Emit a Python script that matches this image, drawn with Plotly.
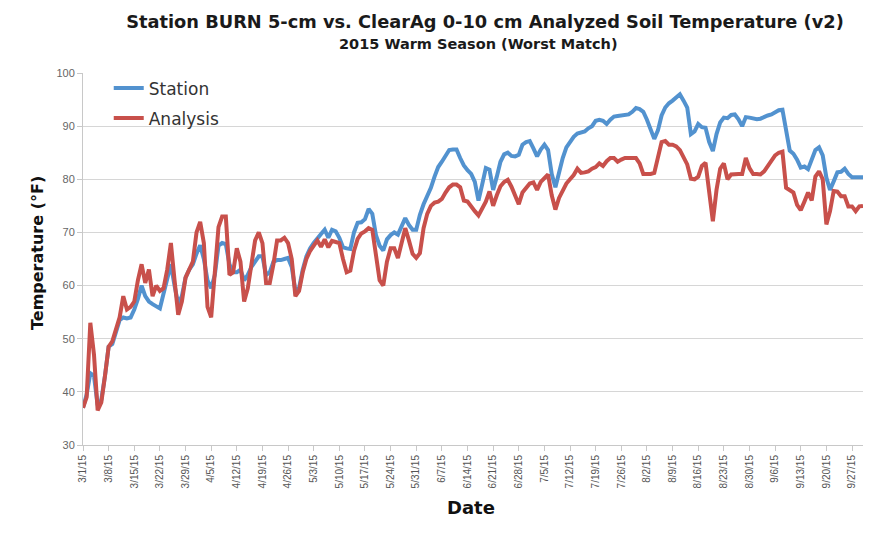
import pandas as pd
import plotly.graph_objects as go

start_date = "2015-03-01"
end_date = "2015-09-30"

station = [
    37, 39.5, 43.5, 43, 37.5, 38.5, 43,
    48.5, 49, 51, 53.5, 54, 53.8, 54,
    55.5, 57.5, 60, 58, 57, 56.5, 56,
    55.7, 58.5, 61, 64, 60, 56.5, 58,
    61.5, 63, 64, 66, 67.6, 65, 61,
    59.5, 62, 67.5, 68, 67.8, 64, 62.5,
    62.5, 63, 61, 62, 63.5, 64.5, 65.5,
    65.5, 62, 62.5, 64.5, 64.8, 64.8, 65,
    65.2, 63.5, 59, 59.5, 63, 65.5, 67,
    68, 69, 69.7, 70.5, 69, 70.5, 70.2,
    69, 67.2, 67, 66.9, 70, 71.8, 71.9,
    72.5, 74.4, 73.5, 69.5, 67.5, 66.6, 68.7,
    69.5, 70, 69.6, 71, 72.7, 71.4, 70.5,
    70.5, 73.3, 75.3, 76.8, 78.4, 80.5, 82.3,
    83.3, 84.5, 85.5, 85.6, 85.6, 84, 82.6,
    81.7, 81, 79.5, 76, 79, 82.1, 81.8,
    78, 80.5, 83.3, 84.7, 85, 84.4, 84.3,
    84.6, 86.5, 87, 87.2, 85.8, 84.3, 85.6,
    86.5, 85.5, 81, 78.5, 81.5, 84, 86,
    87, 88, 88.6, 88.8, 89, 89.6, 90,
    91, 91.2, 91, 90.4, 91.2, 91.8, 91.9,
    92, 92.1, 92.2, 92.7, 93.4, 93.2, 92.7,
    91.2, 89.3, 87.6, 89.2, 92, 93.5, 94.3,
    94.8, 95.3, 96, 94.8, 93.5, 88.5, 89,
    90.4, 89.8, 89.7, 87, 85.3, 88.5, 90.7,
    91.6, 91.5, 92.1, 92.2, 91.3, 90, 91.7,
    91.6, 91.5, 91.3, 91.4, 91.8, 92, 92.2,
    92.6, 93, 93.1, 89, 85.4, 84.8, 83.7,
    82.2, 82.4, 81.9, 83.8, 85.5, 86, 84.5,
    80.3, 78, 79.6, 81.3, 81.4, 82, 81,
    80.4, 80.4, 80.4, 80.4,
]

analysis = [
    37, 39, 53, 47, 36.5, 38, 43,
    48.5, 49.5, 52, 54, 58, 55.5, 56,
    57, 61, 64, 60.5, 63, 58, 60,
    59, 59.5, 63, 68, 61, 54.5, 57,
    61.5, 63, 64.5, 70, 72, 68, 56,
    54, 63, 71, 73, 73, 62, 62.5,
    67, 64.5, 57, 59.5, 64, 68.5, 70,
    68, 60.5, 60.5, 64, 68.5, 68.5, 69,
    68, 65, 58, 59, 62.5, 65, 66.5,
    67.5, 68.5, 67.3, 68.7, 67.2, 68.4, 68.2,
    68, 65, 62.5, 62.8, 66.5, 68.8, 69.8,
    70.2, 70.8, 70.5, 66, 61, 60, 64.5,
    67, 67, 65.2, 68.3, 70.8, 68.5, 66,
    65.2, 66.1, 70.8, 73.5, 75, 75.6, 75.8,
    76.3, 77.5, 78.5, 79, 79, 78.5, 76,
    75.8, 74.8, 74, 73.2, 74.5, 75.8, 77.7,
    75, 77, 78.7, 79.5, 79.9, 78.6, 77,
    75.3, 77.5, 78.5, 79.2, 79.4, 78, 79.5,
    80.2, 80.9, 77, 74.3, 76.5, 78, 79.2,
    80, 80.8, 82, 81.2, 81.3, 81.5, 82,
    82.3, 83, 82.5, 83.4, 84, 84, 83.3,
    83.7, 84, 84, 84, 84, 83, 81,
    81, 81, 81.2, 84.3, 87, 87.2, 86.5,
    86.5, 86.2, 85.5, 84.3, 82.8, 80.1, 80,
    80.5, 82.5, 83.1, 77.5, 72.1, 78, 82,
    83, 80, 80.9, 81, 81, 81, 84,
    82.1, 81, 81, 80.9, 81.5, 82.5, 83.4,
    84.5, 85, 85.2, 78.4, 78, 77.5, 75.2,
    74.2, 75.8, 77.5, 76, 80.5, 81.5, 80,
    71.5, 74, 77.8, 77.7, 76.8, 76.8, 74.9,
    74.9, 74, 74.9, 75,
]

tick_labels = [
    "3/1/15", "3/8/15", "3/15/15", "3/22/15", "3/29/15", "4/5/15", "4/12/15",
    "4/19/15", "4/26/15", "5/3/15", "5/10/15", "5/17/15", "5/24/15", "5/31/15",
    "6/7/15", "6/14/15", "6/21/15", "6/28/15", "7/5/15", "7/12/15", "7/19/15",
    "7/26/15", "8/2/15", "8/9/15", "8/16/15", "8/23/15", "8/30/15", "9/6/15",
    "9/13/15", "9/20/15", "9/27/15",
]
y_ticks = [30, 40, 50, 60, 70, 80, 90, 100]

dates = pd.date_range(start_date, end_date, freq="D")
tick_dates = pd.date_range(start_date, periods=len(tick_labels), freq="7D")

BLUE = "#5292CF"
RED = "#C8504B"

fig = go.Figure()
fig.add_trace(go.Scatter(x=dates, y=station, mode="lines", name="Station",
                         legendgroup="s", line=dict(color=BLUE, width=4)))
fig.add_trace(go.Scatter(x=dates, y=analysis, mode="lines", name="Analysis",
                         legendgroup="a", line=dict(color=RED, width=4)))

fig.update_layout(
    width=896, height=533,
    margin=dict(l=83, r=33, t=73, b=88),
    paper_bgcolor="white", plot_bgcolor="white",
    title=dict(
        text="Station BURN 5-cm vs. ClearAg 0-10 cm Analyzed Soil Temperature (v2)",
        font=dict(family="DejaVu Sans", size=17.8, color="#1a1a1a", weight="bold"),
        x=485 / 896, xref="container", xanchor="center",
        y=1 - 22 / 533, yref="container", yanchor="middle",
    ),
    showlegend=True,
    legend=dict(
        x=0.033, y=1.007, xanchor="left", yanchor="top",
        bgcolor="rgba(0,0,0,0)", font=dict(family="DejaVu Sans", size=17, color="#333333"),
        tracegroupgap=5, itemwidth=30,
    ),
    xaxis=dict(
        type="date",
        range=[start_date, end_date],
        tickvals=tick_dates, ticktext=tick_labels, tickangle=-90,
        tickfont=dict(family="Liberation Sans", size=10, color="#555555"),
        showgrid=False, zeroline=False,
        showline=True, linecolor="#C8C8C8", linewidth=1,
        ticks="outside", ticklen=5, tickcolor="#C8C8C8",
    ),
    yaxis=dict(
        range=[30, 100], tickvals=y_ticks,
        tickfont=dict(family="Liberation Sans", size=11, color="#666666"),
        showgrid=True, gridcolor="#D6D6D6", gridwidth=1, zeroline=False,
        showline=True, linecolor="#C8C8C8", linewidth=1,
        ticks="outside", ticklen=5, tickcolor="#C8C8C8",
    ),
    annotations=[
        dict(text="2015 Warm Season (Worst Match)", xref="paper", yref="paper",
             x=(478 - 83) / 780, y=(445 - 44) / 372, xanchor="center", yanchor="middle",
             showarrow=False,
             font=dict(family="DejaVu Sans", size=14.5, color="#1a1a1a", weight="bold")),
        dict(text="Temperature (°F)", xref="paper", yref="paper",
             x=(37 - 83) / 780, y=(445 - 253) / 372, xanchor="center", yanchor="middle",
             textangle=-90, showarrow=False,
             font=dict(family="DejaVu Sans", size=16, color="#111111", weight="bold")),
        dict(text="Date", xref="paper", yref="paper",
             x=(471 - 83) / 780, y=(445 - 507) / 372, xanchor="center", yanchor="middle",
             showarrow=False,
             font=dict(family="DejaVu Sans", size=18, color="#111111", weight="bold")),
    ],
)

fig.write_html("out.html", config={"displayModeBar": False},
               post_script="document.body.style.margin='0';")
